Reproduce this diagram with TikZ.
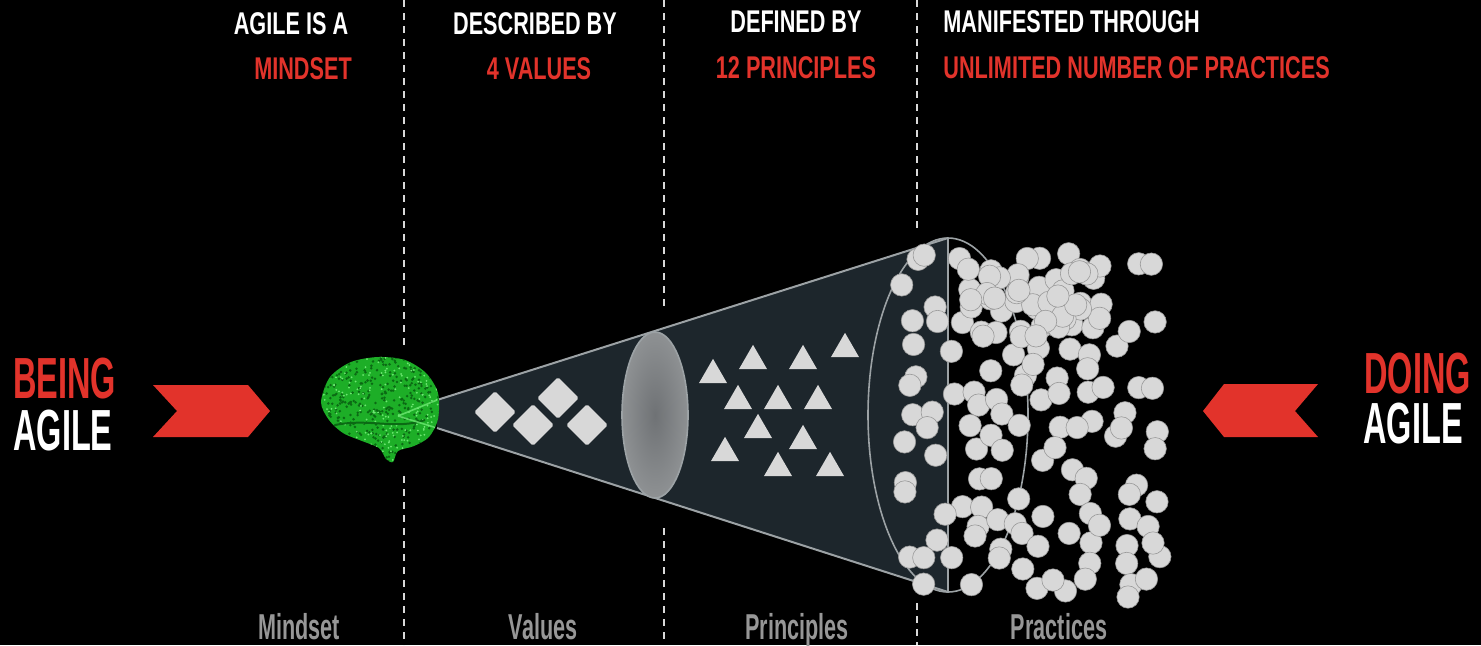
\documentclass[tikz,border=0pt]{standalone}
\usepackage{fontspec}
\usetikzlibrary{shapes.geometric}
\newfontfamily\bigfont[FakeStretch=0.56]{Liberation Sans}
\newfontfamily\headfont[FakeStretch=0.69]{Liberation Sans}
\newfontfamily\lowfont[FakeStretch=0.6]{Liberation Sans}
\definecolor{agred}{HTML}{E2332B}
\definecolor{conefill}{HTML}{1D262C}
\definecolor{coneline}{HTML}{9CA2A5}
\definecolor{shapegray}{HTML}{D8D8D8}
\definecolor{lensgray}{HTML}{6F7275}
\definecolor{lensrim}{HTML}{8E9193}
\definecolor{labelgray}{HTML}{979797}
\definecolor{braingreen}{HTML}{1DAE27}
\definecolor{braindark}{HTML}{0B6A14}
\definecolor{brainlight}{HTML}{6EE873}

\begin{document}
\begin{tikzpicture}[x=0.5pt, y=-0.5pt,
    big/.style={font=\fontsize{29}{30}\bigfont\bfseries, inner sep=0, anchor=base west},
    head/.style={font=\fontsize{15.7}{16}\headfont\bfseries, inner sep=0, anchor=base},
    low/.style={font=\fontsize{18}{18}\lowfont\bfseries, text=labelgray, inner sep=0, anchor=base},
    sep/.style={draw=white!85!black, line width=1pt, dash pattern=on 3.5pt off 3pt},
    diam/.style={diamond, fill=shapegray, inner sep=0, minimum size=21pt, rounded corners=0.8pt},
    tri/.style={regular polygon, regular polygon sides=3, fill=shapegray, inner sep=0, minimum size=16.2pt},
    ball/.style={fill=shapegray, draw=black!40, line width=0.3pt}]

  \fill[black] (0,0) rectangle (1481,645);
  \useasboundingbox (0,0) rectangle (1481,645);

  \draw[sep] (404,0) -- (404,345);
  \draw[sep] (404,476) -- (404,645);
  \draw[sep] (664,0) -- (664,310);
  \draw[sep] (664,528) -- (664,645);
  \draw[sep] (917,0) -- (917,228);
  \draw[sep] (917,603) -- (917,645);

  \fill[conefill] (437,400) -- (948,238) -- (948,592) -- (437,428) -- cycle;
  \draw[coneline, line width=1pt] (437,400) -- (948,238);
  \draw[coneline, line width=1pt] (437,428) -- (948,592);
  \draw[coneline, line width=0.8pt] (948,238) -- (948,592);
  \draw[coneline, line width=0.8pt] (948,415) ellipse[x radius=40pt, y radius=88.5pt];
  \shade[inner color=lensgray, outer color=lensrim] (655,415) ellipse[x radius=16.5pt, y radius=41.5pt];
  \draw[coneline, line width=0.8pt] (655,415) ellipse[x radius=16.5pt, y radius=41.5pt];

  \begin{scope}
    \clip plot[smooth cycle] coordinates {(321,402) (330,377) (351,362) (378,357) (405,360) (426,373) (438,393) (438,419) (429,437) (414,446) (398,451) (393,462) (386,459) (379,448) (362,441) (343,433) (329,420)};
    \fill[braingreen] (318,355) rectangle (442,466);
    \pgfmathsetseed{21}
    \foreach \k in {1,...,420}{
      \pgfmathsetmacro\gx{318+124*rnd}
      \pgfmathsetmacro\gy{355+111*rnd}
      \fill[braindark] (\gx,\gy) circle[radius=0.7pt];
    }
    \foreach \k in {1,...,260}{
      \pgfmathsetmacro\gx{318+124*rnd}
      \pgfmathsetmacro\gy{355+111*rnd}
      \fill[brainlight] (\gx,\gy) circle[radius=0.5pt];
    }
    \draw[braindark, line width=1pt] (335,425) .. controls (370,418) and (395,430) .. (425,420);
    \draw[brainlight, line width=0.8pt, opacity=0.8] (398,416) -- (437,400);
    \draw[brainlight, line width=0.8pt, opacity=0.8] (398,416) -- (437,428);
  \end{scope}

  \node[diam] (v1) at (495,412) {};
  \node[diam] (v2) at (533,425) {};
  \node[diam] (v3) at (558,398) {};
  \node[diam] (v4) at (587,425) {};

  \foreach \px/\py [count=\k] in {713/375, 753/361, 803/361, 845/349, 738/401, 778/401, 818/401, 758/430, 803/441, 725/453, 778/468, 830/468}
    \node[tri] (p\k) at (\px,\py) {};

  \pgfmathsetseed{11}
  \foreach \i in {0,...,11}{
    \foreach \j in {0,...,15}{
      \pgfmathsetmacro\keep{rnd}
      \pgfmathsetmacro\bx{910+22*\i+18*(rnd-0.5)}
      \pgfmathsetmacro\by{262+21.5*\j+18*(rnd-0.5)}
      \ifdim\keep pt>0.32pt
        \path[ball] (\bx,\by) circle[radius=5.6pt];
      \fi
    }
  }
  \foreach \k in {1,...,28}{
    \pgfmathsetmacro\bx{965+125*rnd}
    \pgfmathsetmacro\by{252+90*rnd}
    \path[ball] (\bx,\by) circle[radius=5.6pt];
  }
  \foreach \bx/\by in {1053/580, 1128/597, 1153/543}
    \path[ball] (\bx,\by) circle[radius=5.6pt];

  \fill[agred] (153,385) -- (248,385) -- (270,411) -- (248,437) -- (153,437) -- (177,411) -- cycle;
  \fill[agred] (1224,384) -- (1318,384) -- (1295,411) -- (1318,437) -- (1224,437) -- (1203,411) -- cycle;

  \node[big, text=agred] (being) at (13,398) {BEING};
  \node[big, text=white] (agilel) at (13,450) {AGILE};
  \node[big, text=agred] (doing) at (1364,393) {DOING};
  \node[big, text=white] (agiler) at (1363,443) {AGILE};

  \node[head, text=white] (h1) at (291,34) {AGILE IS A};
  \node[head, text=agred] (r1) at (303,79) {MINDSET};
  \node[head, text=white] (h2) at (535,34) {DESCRIBED BY};
  \node[head, text=agred] (r2) at (539,79) {4 VALUES};
  \node[head, text=white] (h3) at (796,32) {DEFINED BY};
  \node[head, text=agred] (r3) at (796,78) {12 PRINCIPLES};
  \node[head, text=white, anchor=base west] (h4) at (943,32) {MANIFESTED THROUGH};
  \node[head, text=agred, anchor=base west] (r4) at (943,78) {UNLIMITED NUMBER OF PRACTICES};

  \node[low] (l1) at (299,639) {Mindset};
  \node[low] (l2) at (543,639) {Values};
  \node[low] (l3) at (797,639) {Principles};
  \node[low] (l4) at (1059,639) {Practices};
\end{tikzpicture}
\end{document}
